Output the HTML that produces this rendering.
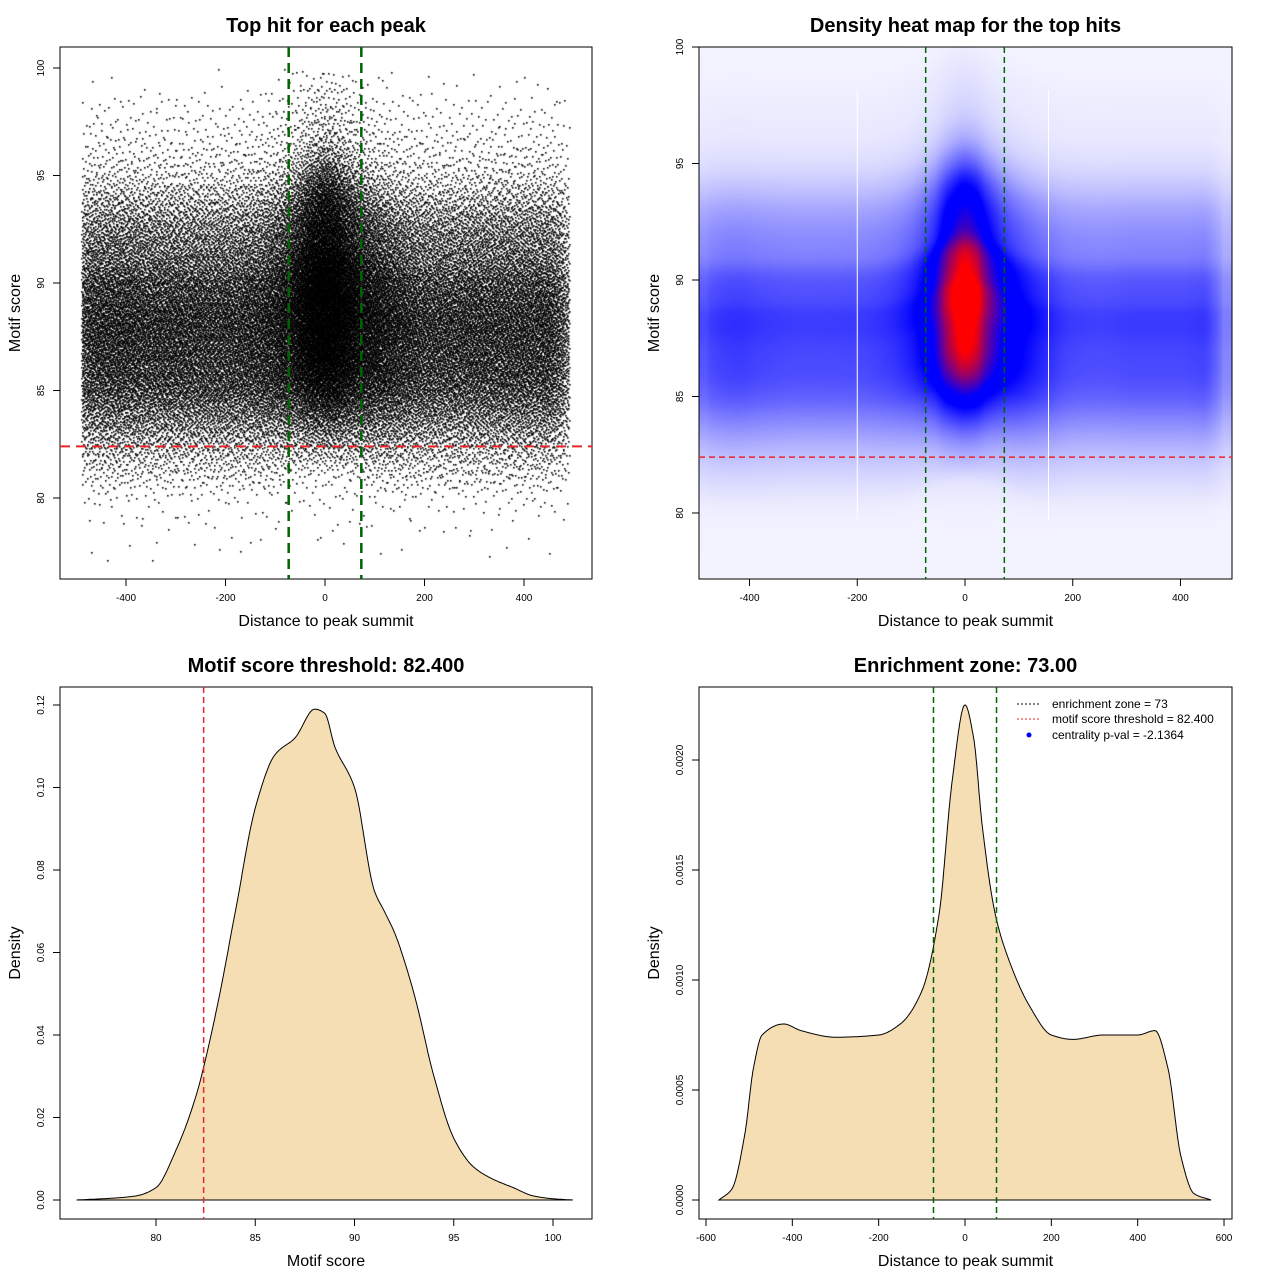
<!DOCTYPE html>
<html><head><meta charset="utf-8">
<style>
body{margin:0;background:#fff;width:1280px;height:1280px;position:relative;overflow:hidden;font-family:"Liberation Sans",sans-serif}
canvas,svg{position:absolute}
</style></head>
<body>
<canvas id="scatter" width="532" height="532" style="left:60px;top:47px"></canvas>
<canvas id="heat" width="533" height="532" style="left:699px;top:47px"></canvas>
<svg id="ov" width="1280" height="1280" viewBox="0 0 1280 1280" style="left:0;top:0"></svg>
<script>
const scoreX=[76,78,79,80,81,82,83,84,85,86,87,88,88.5,89,90,91,91.5,92,93,94,95,96,97,98,99,100,101];
const scoreD=[0,0.0005,0.001,0.003,0.012,0.025,0.045,0.07,0.095,0.108,0.112,0.119,0.118,0.11,0.1,0.075,0.07,0.065,0.05,0.03,0.015,0.008,0.005,0.003,0.001,0.0003,0];
const distX=[-570,-540,-510,-490,-470,-420,-380,-300,-200,-150,-100,-60,-30,0,20,40,70,100,150,200,250,320,400,440,470,500,530,570];
const distD=[0,0.00005,0.0003,0.0006,0.00075,0.0008,0.00077,0.00074,0.00075,0.0008,0.00095,0.0013,0.0019,0.00225,0.0021,0.0017,0.0013,0.0011,0.00088,0.00075,0.00073,0.00075,0.00075,0.00077,0.0006,0.0002,0.00003,0];
const threshold=82.4, zone=73, centerShift=1.2;
const whiteGaps=[-200,155];
const xTicks1=[-400,-200,0,200,400], yTicks1=[80,85,90,95,100];
const xTicks3=[80,85,90,95,100], yTicks3=[0,0.02,0.04,0.06,0.08,0.10,0.12];
const yLabels3=["0.00","0.02","0.04","0.06","0.08","0.10","0.12"];
const xTicks4=[-600,-400,-200,0,200,400,600], yTicks4=[0,0.0005,0.001,0.0015,0.002];
const yLabels4=["0.0000","0.0005","0.0010","0.0015","0.0020"];

function makeSpline(xs,ys){const n=xs.length,m=new Array(n).fill(0),dl=[];
 for(let i=0;i<n-1;i++)dl.push((ys[i+1]-ys[i])/(xs[i+1]-xs[i]));
 for(let i=1;i<n-1;i++){if(dl[i-1]*dl[i]<=0)m[i]=0;else{const w1=2*(xs[i+1]-xs[i])+(xs[i]-xs[i-1]),w2=(xs[i+1]-xs[i])+2*(xs[i]-xs[i-1]);m[i]=(w1+w2)/(w1/dl[i-1]+w2/dl[i]);}}
 m[0]=dl[0];m[n-1]=dl[n-2];
 return x=>{if(x<=xs[0])return ys[0];if(x>=xs[n-1])return ys[n-1];let i=1;while(x>xs[i])i++;i--;
  const h=xs[i+1]-xs[i],t=(x-xs[i])/h,t2=t*t,t3=t2*t;
  return Math.max(0,(2*t3-3*t2+1)*ys[i]+(t3-2*t2+t)*h*m[i]+(-2*t3+3*t2)*ys[i+1]+(t3-t2)*h*m[i+1]);};}
const ps=makeSpline(scoreX,scoreD), pd=makeSpline(distX,distD);
const shiftAt=d=>centerShift*Math.exp(-(d/90)*(d/90));

const p1x=d=>325+d*0.4975, p1y=s=>68+(100-s)*21.5;
const p2x=d=>965+d*0.5387, p2y=s=>47+(100-s)*23.3;
const p3x=s=>156+(s-80)*19.85, p3y=v=>1200-v*4125;
const p4x=d=>965+d*0.4317, p4y=v=>1200-v*220000;

(function(){const c=document.getElementById('scatter').getContext('2d');c.fillStyle='#000';
 const N=55000;let carry=0,k=0;
 function halton(i,b){let f=1,r=0;while(i>0){f/=b;r+=f*(i%b);i=Math.floor(i/b);}return r;}
 for(let d=-490;d<490;d+=10){const sh=shiftAt(d+5);for(let s=77;s<100;s+=0.25){
  carry+=N*pd(d+5)*10*ps(s+0.125-sh)*0.25;
  while(carry>=1){carry-=1;k++;const dd=d+10*halton(k,2),ss=s+0.25*halton(k,3);
   c.fillRect(Math.round(p1x(dd)-60),Math.round(p1y(ss)-47),1.6,1.6);}}}
})();
(function(){const cv=document.getElementById('heat'),c=cv.getContext('2d');const im=c.createImageData(533,532);
 const mx=pd(0)*ps(88);
 for(let py=0;py<532;py++){const s=100-(py+0.5)/23.3;for(let px=0;px<533;px++){const d=(px+699+0.5-965)/0.5387;
  const t=0.012+pd(Math.max(-480,Math.min(480,d)))*ps(s-shiftAt(d))/mx;let r,g,b;
  if(t<0.45){const u=t/0.45;r=250*(1-u);g=250*(1-u);b=255;}else if(t<0.55){r=0;g=0;b=255;}
  else if(t<0.9){const u=(t-0.55)/0.35;r=255*u;g=0;b=255*(1-u);}else{r=255;g=0;b=0;}
  const i=(py*533+px)*4;im.data[i]=r;im.data[i+1]=g;im.data[i+2]=b;im.data[i+3]=255;}}
 c.putImageData(im,0,0);})();

const NS='http://www.w3.org/2000/svg',ov=document.getElementById('ov');
function el(tag,attrs,name,txt){const e=document.createElementNS(NS,tag);for(const k in attrs)e.setAttribute(k,attrs[k]);
 
 
 if(txt!==undefined)e.textContent=txt;ov.appendChild(e);return e;}
whiteGaps.forEach(g=>el('line',{x1:p2x(g),x2:p2x(g),y1:90,y2:520,stroke:'#fff','stroke-width':1},'heatmap-gap-line'));
function panel(box,title,xl,yl,xt,xf,xlab,yt,yf,ylab,pfx){
 el('rect',{x:box[0],y:box[1],width:box[2]-box[0],height:box[3]-box[1],fill:'none',stroke:'#000'},pfx+'-plot-frame');
 el('text',{x:(box[0]+box[2])/2,y:box[1]-15,'text-anchor':'middle','font-size':20,'font-weight':'bold'},pfx+'-title',title);
 el('text',{x:(box[0]+box[2])/2,y:box[3]+47,'text-anchor':'middle','font-size':16},pfx+'-x-axis-title',xl);
 el('text',{x:0,y:0,transform:`translate(${box[0]-40},${(box[1]+box[3])/2}) rotate(-90)`,'text-anchor':'middle','font-size':16},pfx+'-y-axis-title',yl);
 const xs=xt.map(xf),ys=yt.map(yf);
 el('line',{x1:xs[0],x2:xs[xs.length-1],y1:box[3],y2:box[3],stroke:'#000'},pfx+'-x-axis');
 xt.forEach((v,i)=>{el('line',{x1:xs[i],x2:xs[i],y1:box[3],y2:box[3]+7,stroke:'#000'},pfx+'-x-tick');
  el('text',{x:xs[i],y:box[3]+22,'text-anchor':'middle','font-size':10},pfx+'-x-tick-label',xlab[i]);});
 el('line',{x1:box[0],x2:box[0],y1:ys[0],y2:ys[ys.length-1],stroke:'#000'},pfx+'-y-axis');
 yt.forEach((v,i)=>{el('line',{x1:box[0]-7,x2:box[0],y1:ys[i],y2:ys[i],stroke:'#000'},pfx+'-y-tick');
  el('text',{x:0,y:0,transform:`translate(${box[0]-16},${ys[i]}) rotate(-90)`,'text-anchor':'middle','font-size':10},pfx+'-y-tick-label',ylab[i]);});
}
panel([60,47,592,579],'Top hit for each peak','Distance to peak summit','Motif score',xTicks1,p1x,xTicks1,yTicks1,p1y,yTicks1,'scatter');
panel([699,47,1232,579],'Density heat map for the top hits','Distance to peak summit','Motif score',xTicks1,p2x,xTicks1,yTicks1,p2y,yTicks1,'heatmap');
panel([60,687,592,1219],'Motif score threshold: 82.400','Motif score','Density',xTicks3,p3x,xTicks3,yTicks3,p3y,yLabels3,'score-density');
panel([699,687,1232,1219],'Enrichment zone: 73.00','Distance to peak summit','Density',xTicks4,p4x,xTicks4,yTicks4,p4y,yLabels4,'distance-density');

let pts=[];for(let s=76;s<=101.001;s+=0.05)pts.push(p3x(s).toFixed(1)+','+p3y(ps(s)).toFixed(1));
el('polygon',{points:pts.join(' '),fill:'#f5deb3',stroke:'#000'},'score-density-curve');
pts=[];for(let d=-570;d<=570;d+=1)pts.push(p4x(d).toFixed(1)+','+p4y(pd(d)).toFixed(1));
el('polygon',{points:pts.join(' '),fill:'#f5deb3',stroke:'#000'},'distance-density-curve');

el('line',{x1:60,x2:592,y1:p1y(threshold),y2:p1y(threshold),stroke:'#e8262a','stroke-width':2,'stroke-dasharray':'10,6'},'scatter-threshold-line');
[-zone,zone].forEach(z=>el('line',{x1:p1x(z),x2:p1x(z),y1:47,y2:579,stroke:'#006400','stroke-width':2.5,'stroke-dasharray':'10,6'},'scatter-zone-line'));
el('line',{x1:699,x2:1232,y1:p2y(threshold),y2:p2y(threshold),stroke:'#e8262a','stroke-width':1.5,'stroke-dasharray':'6,4'},'heatmap-threshold-line');
[-zone,zone].forEach(z=>el('line',{x1:p2x(z),x2:p2x(z),y1:47,y2:579,stroke:'#006400','stroke-width':1.5,'stroke-dasharray':'6,4'},'heatmap-zone-line'));
el('line',{x1:p3x(threshold),x2:p3x(threshold),y1:687,y2:1219,stroke:'#e8262a','stroke-width':1.5,'stroke-dasharray':'6,4'},'score-threshold-line');
[-zone,zone].forEach(z=>el('line',{x1:p4x(z),x2:p4x(z),y1:687,y2:1219,stroke:'#006400','stroke-width':1.5,'stroke-dasharray':'6,4'},'distance-zone-line'));

el('line',{x1:1017,x2:1041,y1:704,y2:704,stroke:'#000','stroke-dasharray':'2,2'},'legend-zone-key');
el('text',{x:1052,y:708,'font-size':12},'legend-zone-label','enrichment zone = 73');
el('line',{x1:1017,x2:1041,y1:719,y2:719,stroke:'#e8262a','stroke-dasharray':'2,2'},'legend-threshold-key');
el('text',{x:1052,y:723,'font-size':12},'legend-threshold-label','motif score threshold = 82.400');
el('circle',{cx:1029,cy:735,r:2.5,fill:'#00f'},'legend-pval-key');
el('text',{x:1052,y:739,'font-size':12},'legend-pval-label','centrality p-val = -2.1364');
</script>
</body></html>
